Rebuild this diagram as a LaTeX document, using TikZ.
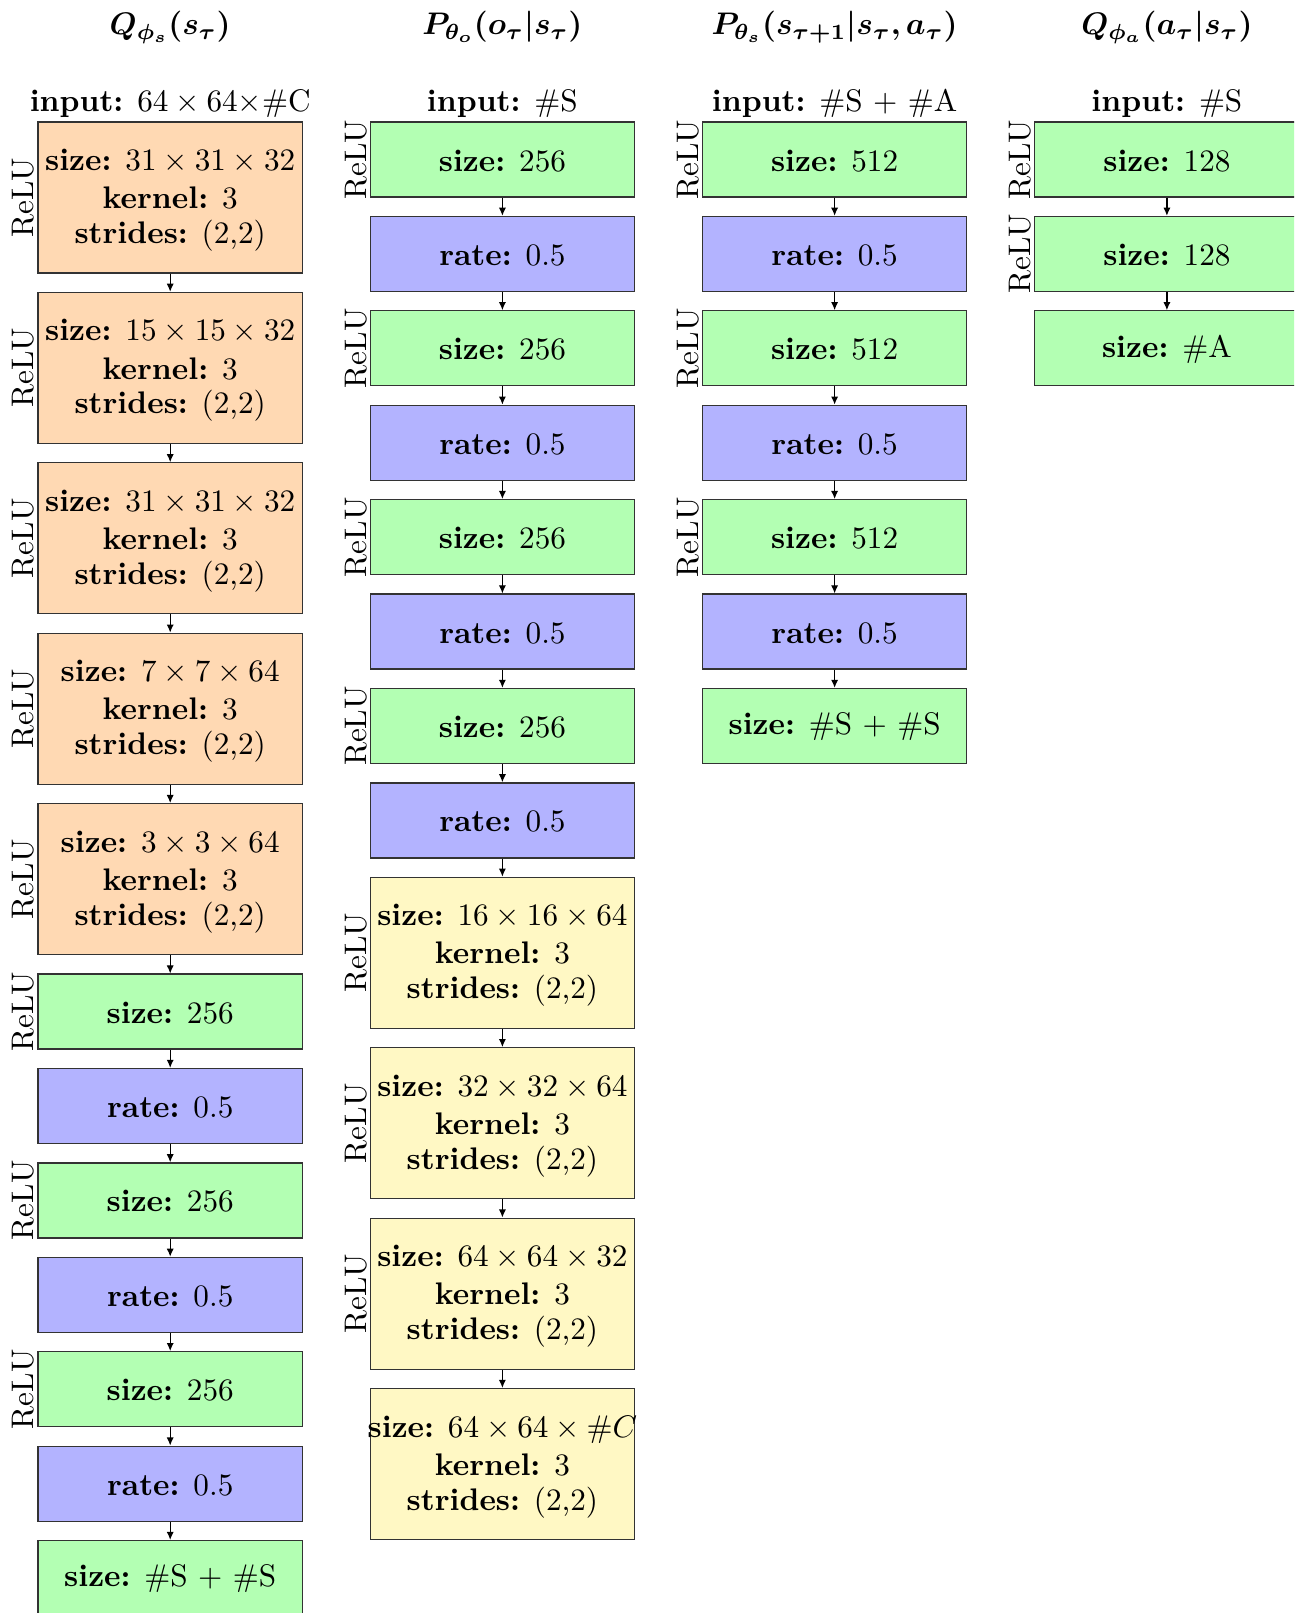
\documentclass[tikz,border=0pt]{standalone}
\usepackage{bm}
\usetikzlibrary{positioning,arrows.meta}
\definecolor{convc}{RGB}{255,217,179}
\definecolor{densec}{RGB}{179,255,179}
\definecolor{dropc}{RGB}{179,179,255}
\definecolor{deconvc}{RGB}{255,248,196}
\newcommand{\tl}{\rule{0pt}{7.6pt}}
\newcommand{\tll}{\rule{0pt}{8.6pt}}
\tikzset{
  box/.style={draw=black!80, line width=0.4pt, minimum width=84.71pt, inner sep=0pt, align=center, anchor=north},
  sm/.style={box, minimum height=24.04pt},
  bg/.style={box, minimum height=48.40pt},
  conv/.style={bg, fill=convc},
  deconv/.style={bg, fill=deconvc},
  dense/.style={sm, fill=densec},
  drop/.style={sm, fill=dropc},
  relu/.style={rotate=90, anchor=south, inner sep=0.7pt},
  arr/.style={-{Latex[length=2.6pt,width=2.3pt]}, line width=0.4pt},
  hd/.style={anchor=base, inner sep=0pt}
}
\newcommand{\three}[1]{\tll #1\\[0.2pt] \textbf{kernel:} 3\\[-0.8pt] \textbf{strides:} (2,2)}
\begin{document}
\begin{tikzpicture}[x=0.320513pt, y=-0.320513pt, node distance=5.82pt]
\useasboundingbox (0,0) rectangle (1294,1613);
\clip (0,0) rectangle (1294,1613);
% headers
\node[hd] (h1) at (170.2,35) {$\bm{Q_{\phi_s}(s_\tau)}$};
\node[hd] (h2) at (502.4,35) {$\bm{P_{\theta_o}(o_\tau|s_\tau)}$};
\node[hd] (h3) at (834.6,35) {$\bm{P_{\theta_s}(s_{\tau+1}|s_\tau, a_\tau)}$};
\node[hd] (h4) at (1166.9,35) {$\bm{Q_{\phi_a}(a_\tau|s_\tau)}$};
% inputs
\node[hd] (i1) at (170.2,111.7) {\textbf{input:} $64\times 64\mathord{\times}$\#C};
\node[hd] (i2) at (502.4,111.7) {\textbf{input:} \#S};
\node[hd] (i3) at (834.6,111.7) {\textbf{input:} \#S $+$ \#A};
\node[hd] (i4) at (1166.9,111.7) {\textbf{input:} \#S};
% column 1
\node[conv] (a1) at (170.2,121.4) {\three{\textbf{size:} $31\times31\times32$}};
\node[conv, below=of a1] (a2) {\three{\textbf{size:} $15\times15\times32$}};
\node[conv, below=of a2] (a3) {\three{\textbf{size:} $31\times31\times32$}};
\node[conv, below=of a3] (a4) {\three{\textbf{size:} $7\times7\times64$}};
\node[conv, below=of a4] (a5) {\three{\textbf{size:} $3\times3\times64$}};
\node[dense, below=of a5] (a6) {\tl\textbf{size:} 256};
\node[drop, below=of a6] (a7) {\tl\textbf{rate:} 0.5};
\node[dense, below=of a7] (a8) {\tl\textbf{size:} 256};
\node[drop, below=of a8] (a9) {\tl\textbf{rate:} 0.5};
\node[dense, below=of a9] (a10) {\tl\textbf{size:} 256};
\node[drop, below=of a10] (a11) {\tl\textbf{rate:} 0.5};
\node[dense, below=of a11] (a12) {\tl\textbf{size:} \#S $+$ \#S};
% column 2
\node[dense] (b1) at (502.4,121.4) {\tl\textbf{size:} 256};
\node[drop, below=of b1] (b2) {\tl\textbf{rate:} 0.5};
\node[dense, below=of b2] (b3) {\tl\textbf{size:} 256};
\node[drop, below=of b3] (b4) {\tl\textbf{rate:} 0.5};
\node[dense, below=of b4] (b5) {\tl\textbf{size:} 256};
\node[drop, below=of b5] (b6) {\tl\textbf{rate:} 0.5};
\node[dense, below=of b6] (b7) {\tl\textbf{size:} 256};
\node[drop, below=of b7] (b8) {\tl\textbf{rate:} 0.5};
\node[deconv, below=of b8] (b9) {\three{\textbf{size:} $16\times16\times64$}};
\node[deconv, below=of b9] (b10) {\three{\textbf{size:} $32\times32\times64$}};
\node[deconv, below=of b10] (b11) {\three{\textbf{size:} $64\times64\times32$}};
\node[deconv, below=of b11] (b12) {\three{\makebox[0pt]{\textbf{size:} $64\times64\times\#C$}}};
% column 3
\node[dense] (c1) at (834.6,121.4) {\tl\textbf{size:} 512};
\node[drop, below=of c1] (c2) {\tl\textbf{rate:} 0.5};
\node[dense, below=of c2] (c3) {\tl\textbf{size:} 512};
\node[drop, below=of c3] (c4) {\tl\textbf{rate:} 0.5};
\node[dense, below=of c4] (c5) {\tl\textbf{size:} 512};
\node[drop, below=of c5] (c6) {\tl\textbf{rate:} 0.5};
\node[dense, below=of c6] (c7) {\tl\textbf{size:} \#S $+$ \#S};
% column 4
\node[dense] (d1) at (1166.9,121.4) {\tl\textbf{size:} 128};
\node[dense, below=of d1] (d2) {\tl\textbf{size:} 128};
\node[dense, below=of d2] (d3) {\tl\textbf{size:} \#A};
% ReLU labels
\foreach \n in {a1,a2,a3,a4,a5,a6,a8,a10,b1,b3,b5,b7,b9,b10,b11,c1,c3,c5,d1,d2}
  \node[relu] (relu-\n) at (\n.west) {ReLU};
% connectors
\foreach \p/\q in {a1/a2,a2/a3,a3/a4,a4/a5,a5/a6,a6/a7,a7/a8,a8/a9,a9/a10,a10/a11,a11/a12,
  b1/b2,b2/b3,b3/b4,b4/b5,b5/b6,b6/b7,b7/b8,b8/b9,b9/b10,b10/b11,b11/b12,
  c1/c2,c2/c3,c3/c4,c4/c5,c5/c6,c6/c7,d1/d2,d2/d3}
  \draw[arr] (\p) -- (\q);
\end{tikzpicture}
\end{document}
